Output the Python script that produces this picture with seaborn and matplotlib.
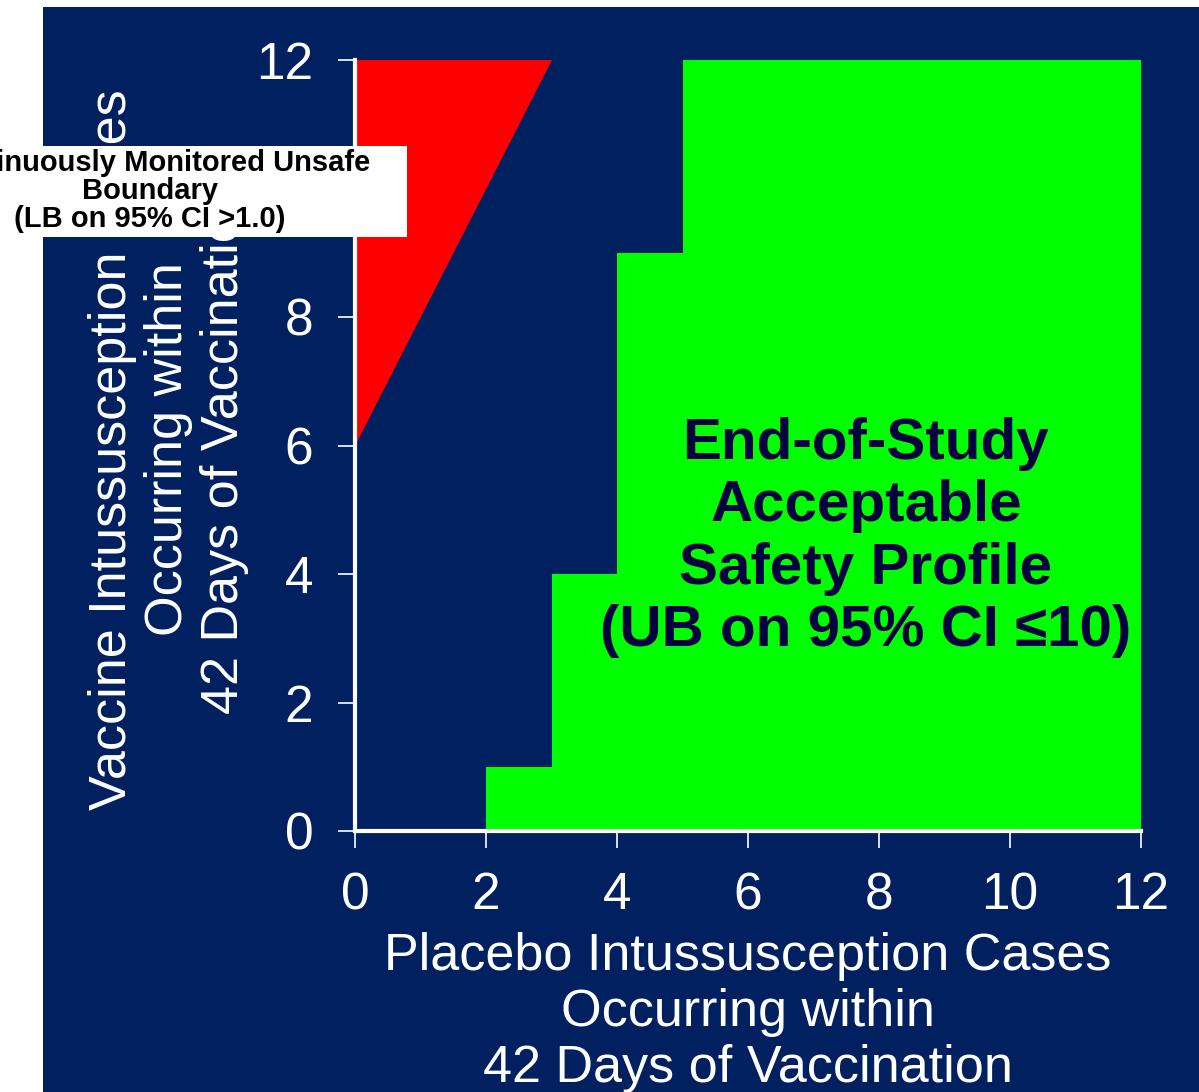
import matplotlib
matplotlib.use("Agg")
import matplotlib.pyplot as plt
import matplotlib.patches as mpatches
import seaborn as sns

# data
red_x = [0, 0, 3]
red_y = [6, 12, 12]
green_edges = [2, 3, 4, 5, 12]
green_heights = [1, 4, 9, 12, 12]
ticks = [0, 2, 4, 6, 8, 10, 12]

NAVY = "#002060"
TEXT_DARK = "#000040"

sns.set_theme(style="ticks")
plt.rcParams['font.family'] = ['Liberation Sans', 'DejaVu Sans']

W, H = 1199, 1092
fig = plt.figure(figsize=(W / 100, H / 100), dpi=100, facecolor="white")
fig.patches.append(mpatches.Rectangle((43 / W, 0), 1 - 43 / W, 1 - 7 / H,
                                      transform=fig.transFigure,
                                      facecolor=NAVY, edgecolor="none", zorder=-10))

ax = fig.add_axes([355 / W, (H - 831) / H, (1141 - 355) / W, (831 - 60) / H])
ax.set_facecolor(NAVY)

ax.fill(red_x, red_y, color="#FF0000", linewidth=0, zorder=2)
ax.fill_between(green_edges, 0, green_heights, step="post",
                color="#00FF00", linewidth=0, zorder=2)

ax.set_xlim(0, 12)
ax.set_ylim(0, 12)
ax.set_xticks(ticks)
ax.set_yticks(ticks)
ax.tick_params(axis="both", colors="white", labelcolor="white", labelsize=37,
               length=12, width=1.2, direction="out")
ax.tick_params(axis="x", pad=17)
ax.tick_params(axis="y", pad=18)

sns.despine(ax=ax)
for side in ["left", "bottom"]:
    ax.spines[side].set_color("white")
    ax.spines[side].set_linewidth(3)
    ax.spines[side].set_zorder(5)

ax.set_xlabel("Placebo Intussusception Cases\nOccurring within\n42 Days of Vaccination",
              color="white", fontsize=37.5, linespacing=1.19)
ax.xaxis.set_label_coords(0.5, -0.131)
ax.set_ylabel("Vaccine Intussusception Cases\nOccurring within\n42 Days of Vaccination",
              color="white", fontsize=37.5, linespacing=1.19)
ax.yaxis.set_label_coords(-0.1345, 0.495)

ax.text(7.8, 4.57, "End-of-Study\nAcceptable\nSafety Profile\n(UB on 95% CI \u226410)",
        ha="center", va="center", fontsize=42, fontweight="bold",
        color=TEXT_DARK, linespacing=1.2, zorder=4)

# boundary label box
fig.patches.append(mpatches.Rectangle((0, (H - 237) / H), 407 / W, 91 / H,
                                      transform=fig.transFigure,
                                      facecolor="white", edgecolor="none", zorder=5))
fig.text(150 / W, (H - 191) / H,
         "Continuously Monitored Unsafe\nBoundary\n(LB on 95% CI >1.0)",
         ha="center", va="center", fontsize=21, fontweight="bold",
         color="black", linespacing=1.0, zorder=6)

fig.savefig("out.png", dpi=100, facecolor="white")
